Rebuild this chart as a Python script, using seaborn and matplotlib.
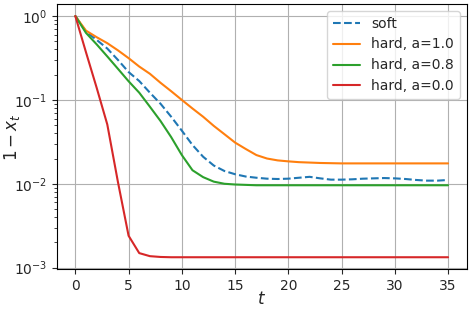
# Convergence of 1 - x_t for soft vs hard updates (log scale)
import numpy as np
import pandas as pd
import matplotlib
matplotlib.use("Agg")
import matplotlib.pyplot as plt
import seaborn as sns

t = np.arange(36)

soft = [1.0, 0.65, 0.52, 0.41, 0.30, 0.215, 0.168, 0.122, 0.09, 0.063,
        0.043, 0.029, 0.021, 0.0165, 0.0142, 0.013, 0.0122, 0.0118, 0.0115, 0.0114,
        0.0115, 0.0118, 0.0121, 0.0116, 0.0112, 0.0112, 0.0113, 0.0115, 0.0116, 0.0117,
        0.0116, 0.0114, 0.0111, 0.0109, 0.0109, 0.0111]
hard_10 = [1.0, 0.67, 0.56, 0.475, 0.39, 0.315, 0.25, 0.205, 0.16, 0.127,
           0.10, 0.079, 0.063, 0.049, 0.039, 0.031, 0.026, 0.022, 0.020, 0.019,
           0.0185, 0.0181, 0.0179, 0.0177, 0.0176, 0.0175, 0.0175, 0.0175, 0.0175, 0.0175,
           0.0175, 0.0175, 0.0175, 0.0175, 0.0175, 0.0175]
hard_08 = [1.0, 0.63, 0.46, 0.33, 0.235, 0.167, 0.122, 0.083, 0.056, 0.036,
           0.022, 0.0145, 0.012, 0.0106, 0.0100, 0.0098, 0.0097, 0.0096, 0.0096, 0.0096,
           0.0096, 0.0096, 0.0096, 0.0096, 0.0096, 0.0096, 0.0096, 0.0096, 0.0096, 0.0096,
           0.0096, 0.0096, 0.0096, 0.0096, 0.0096, 0.0096]
hard_00 = [1.0, 0.37, 0.14, 0.051, 0.0105, 0.0024, 0.00149, 0.00137, 0.00134, 0.00133,
           0.00133, 0.00133, 0.00133, 0.00133, 0.00133, 0.00133, 0.00133, 0.00133, 0.00133, 0.00133,
           0.00133, 0.00133, 0.00133, 0.00133, 0.00133, 0.00133, 0.00133, 0.00133, 0.00133, 0.00133,
           0.00133, 0.00133, 0.00133, 0.00133, 0.00133, 0.00133]

labels = ["soft", "hard, a=1.0", "hard, a=0.8", "hard, a=0.0"]
series = [soft, hard_10, hard_08, hard_00]
colors = ["tab:blue", "tab:orange", "tab:green", "tab:red"]

# matplotlib-like tick sizes on top of seaborn's ticks style
sns.set_style("ticks", {"xtick.major.size": 3.5, "ytick.major.size": 3.5,
                        "ytick.minor.size": 2, "xtick.minor.size": 2,
                        "axes.edgecolor": "black"})
plt.rcParams["font.family"] = ["DejaVu Sans"]

fig = plt.figure(figsize=(4.71, 3.10), dpi=100)
ax = fig.add_axes([56.7 / 471, 1 - 269.3 / 310, (466.7 - 56.7) / 471, (269.3 - 4) / 310])

for lab, ys, c in zip(labels, series, colors):
    sns.lineplot(x=t, y=ys, ax=ax, color=c, label=lab, linewidth=1.5,
                 linestyle="--" if lab == "soft" else "-")

ax.set_yscale("log")
ax.set_xticks(range(0, 36, 5))
ax.grid(True, which="major", color="#b0b0b0", linewidth=0.8)
ax.set_xlabel("$t$", fontsize=12)
ax.set_ylabel("$1 - x_t$", fontsize=12)
ax.xaxis.set_label_coords(0.5, -0.078)
ax.yaxis.set_label_coords(-0.085, 0.5)
ax.legend(loc="upper right")

fig.savefig("out.png", dpi=100)
